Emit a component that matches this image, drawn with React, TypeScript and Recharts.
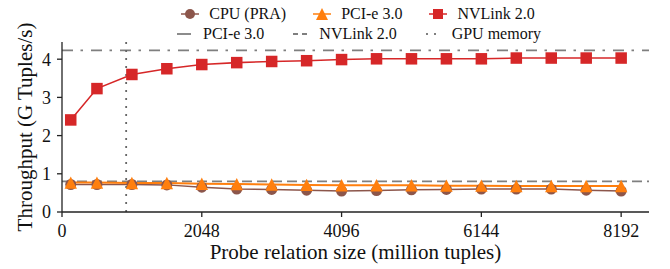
import { LineChart, Line, XAxis, YAxis, ReferenceLine } from "recharts"

const sizes = [128, 512, 1024, 1536, 2048, 2560, 3072, 3584, 4096, 4608, 5120, 5632, 6144, 6656, 7168, 7680, 8192]
const cpuPra = [0.72, 0.72, 0.72, 0.71, 0.65, 0.6, 0.59, 0.57, 0.55, 0.56, 0.58, 0.59, 0.6, 0.6, 0.6, 0.57, 0.55]
const pcie3 = [0.77, 0.77, 0.76, 0.76, 0.74, 0.73, 0.72, 0.71, 0.7, 0.7, 0.7, 0.69, 0.69, 0.68, 0.68, 0.68, 0.68]
const nvlink2 = [2.41, 3.23, 3.6, 3.75, 3.86, 3.91, 3.94, 3.96, 3.99, 4.01, 4.01, 4.01, 4.01, 4.03, 4.03, 4.03, 4.03]

const xTicks = [0, 2048, 4096, 6144, 8192]
const yTicks = [0, 1, 2, 3, 4]

// theoretical limits + memory capacity markers
const pcieLimit = 0.8
const nvlinkLimit = 4.23
const gpuMemory = 940

const BROWN = "#8c564b"
const ORANGE = "#ff7f0e"
const RED = "#d62728"
const GREY = "#7f7f7f"
const FONT = "Liberation Serif"

const data = sizes.map((s, i) => ({ size: s, cpu: cpuPra[i], pcie: pcie3[i], nvlink: nvlink2[i] }))

const CircleDot = (props: any) => {
  const { cx, cy } = props
  if (cx == null || cy == null) return null
  return <circle cx={cx} cy={cy} r={5.5} fill={BROWN} />
}

const TriangleDot = (props: any) => {
  const { cx, cy } = props
  if (cx == null || cy == null) return null
  const h = 6.2
  return <polygon points={`${cx},${cy - h} ${cx - h},${cy + h} ${cx + h},${cy + h}`} fill={ORANGE} />
}

const SquareDot = (props: any) => {
  const { cx, cy } = props
  if (cx == null || cy == null) return null
  return <rect x={cx - 5.75} y={cy - 5.75} width={11.5} height={11.5} fill={RED} />
}

function MarkerHandle({ kind, color }: { kind: string; color: string }) {
  return (
    <svg width={28} height={14} style={{ display: "block" }}>
      <line x1={5} y1={7} x2={23} y2={7} stroke={color} strokeWidth={1.5} />
      {kind === "circle" && <circle cx={14} cy={7} r={5} fill={color} />}
      {kind === "triangle" && <polygon points="14,1 8,13 20,13" fill={color} />}
      {kind === "square" && <rect x={9} y={2} width={10} height={10} fill={color} />}
    </svg>
  )
}

function DashHandle({ dash }: { dash: string }) {
  return (
    <svg width={28} height={14} style={{ display: "block" }}>
      <line x1={7} y1={7} x2={21} y2={7} stroke={GREY} strokeWidth={1.8} strokeDasharray={dash} />
    </svg>
  )
}

const row = { display: "flex", justifyContent: "center", alignItems: "center", gap: 22, height: 20 } as const
const item = { display: "flex", alignItems: "center", gap: 5 } as const

function ChartLegend() {
  return (
    <div style={{ position: "absolute", left: 62, top: 4, width: 587, fontSize: 16, color: "#111", lineHeight: "20px", fontFamily: FONT }}>
      <div style={row}>
        <div style={item}><MarkerHandle kind="circle" color={BROWN} /><span>CPU (PRA)</span></div>
        <div style={item}><MarkerHandle kind="triangle" color={ORANGE} /><span>PCI-e 3.0</span></div>
        <div style={item}><MarkerHandle kind="square" color={RED} /><span>NVLink 2.0</span></div>
      </div>
      <div style={row}>
        <div style={item}><DashHandle dash="14 0" /><span>PCI-e 3.0</span></div>
        <div style={item}><DashHandle dash="5 4" /><span>NVLink 2.0</span></div>
        <div style={item}><DashHandle dash="2 6" /><span>GPU memory</span></div>
      </div>
    </div>
  )
}

export default function App() {
  return (
    <div style={{ position: "absolute", left: 0, top: 0, width: 670, height: 269, fontFamily: FONT, background: "#fff" }}>
      <LineChart width={670} height={269} data={data} margin={{ top: 42, right: 21, left: 0, bottom: 0 }} style={{ fontFamily: FONT }}>
        <XAxis
          dataKey="size"
          type="number"
          domain={[0, 8600]}
          ticks={xTicks}
          height={57}
          tickSize={5}
          tickMargin={7}
          stroke="#222"
          strokeWidth={1.3}
          tick={{ fontSize: 18, fill: "#111", fontFamily: FONT }}
          label={{
            content: ({ viewBox }: any) => (
              <text x={viewBox.x + viewBox.width / 2} y={viewBox.y + 47} textAnchor="middle" fontSize={21} fill="#111" fontFamily={FONT}>
                Probe relation size (million tuples)
              </text>
            ),
          }}
        />
        <YAxis
          type="number"
          domain={[0, 4.45]}
          ticks={yTicks}
          width={62}
          tickSize={5}
          tickMargin={6}
          stroke="#222"
          strokeWidth={1.3}
          tick={{ fontSize: 18, fill: "#111", fontFamily: FONT }}
          label={{
            content: ({ viewBox }: any) => {
              const cx = viewBox.x + 24.5
              const cy = viewBox.y + viewBox.height / 2
              return (
                <text x={cx} y={cy} transform={`rotate(-90 ${cx} ${cy})`} textAnchor="middle" dominantBaseline="central" fontSize={21} fill="#111" fontFamily={FONT}>
                  Throughput (G Tuples/s)
                </text>
              )
            },
          }}
        />
        <ReferenceLine y={pcieLimit} stroke={GREY} strokeWidth={1.8} strokeDasharray="10 5" />
        <ReferenceLine y={nvlinkLimit} stroke={GREY} strokeWidth={1.8} strokeDasharray="11 7.5 2.5 8" />
        <ReferenceLine x={gpuMemory} stroke="#666" strokeWidth={1.8} strokeDasharray="2 6" />
        <Line dataKey="cpu" stroke={BROWN} strokeWidth={1.5} dot={<CircleDot />} isAnimationActive={false} />
        <Line dataKey="pcie" stroke={ORANGE} strokeWidth={2} dot={<TriangleDot />} isAnimationActive={false} />
        <Line dataKey="nvlink" stroke={RED} strokeWidth={1.6} dot={<SquareDot />} isAnimationActive={false} />
      </LineChart>
      <ChartLegend />
    </div>
  )
}
